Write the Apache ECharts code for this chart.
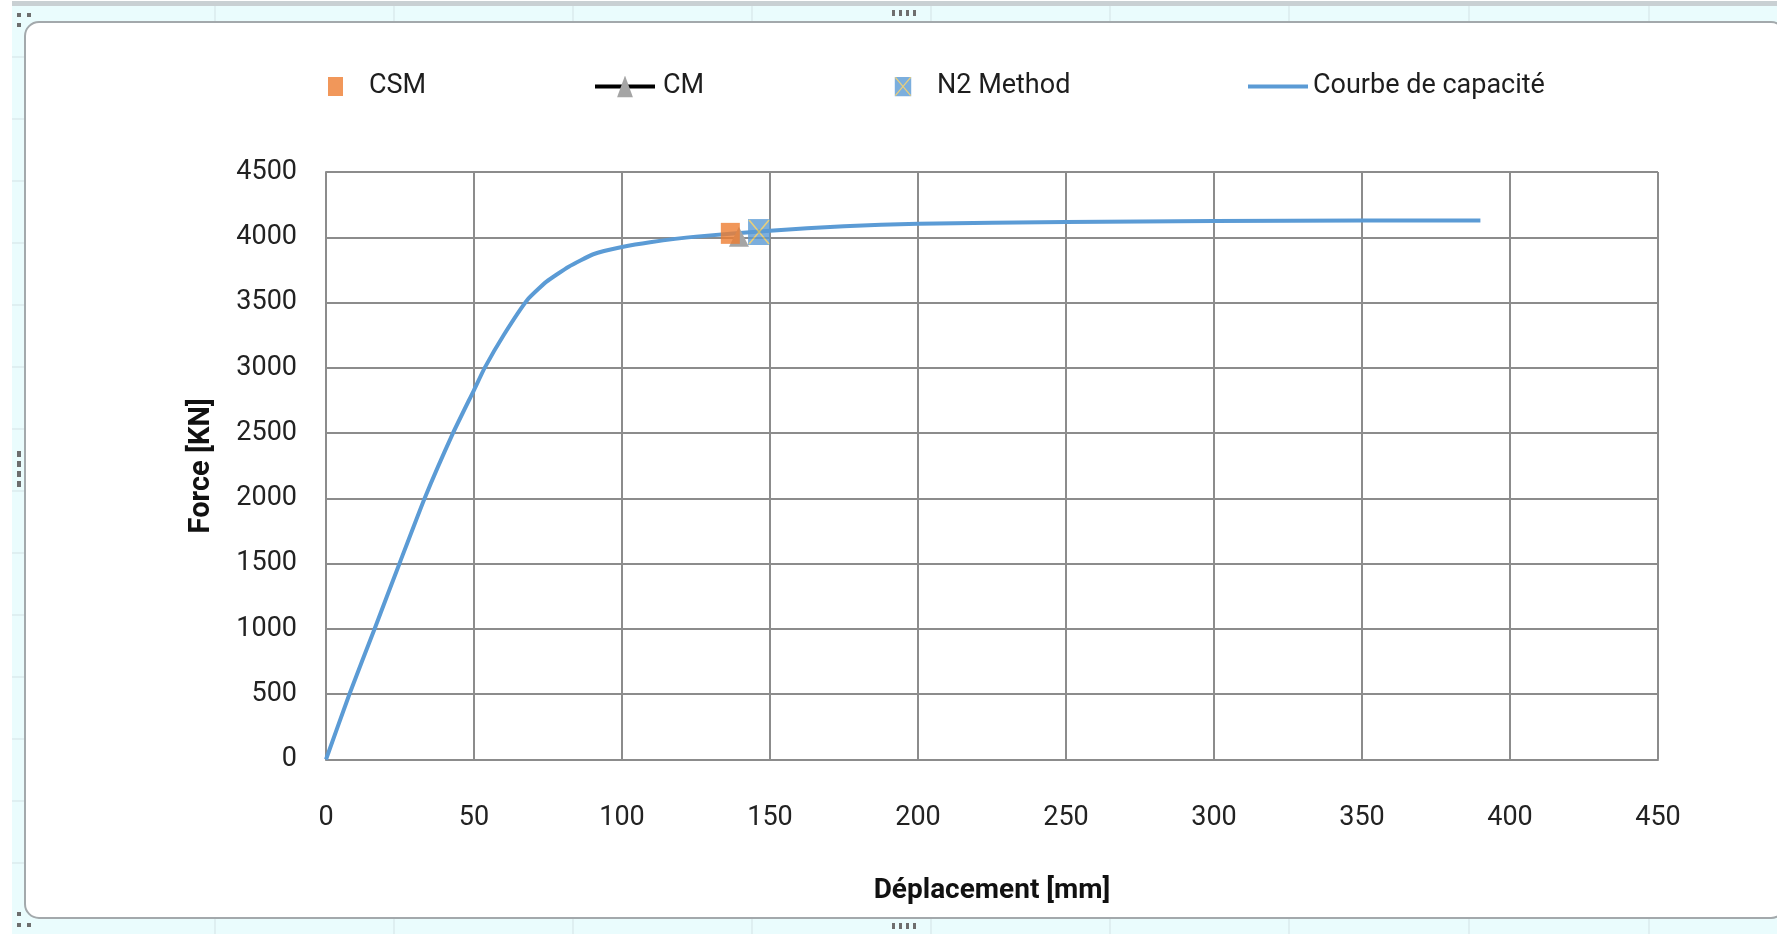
<!DOCTYPE html>
<html>
<head>
<meta charset="utf-8">
<script src="https://cdn.jsdelivr.net/npm/echarts@6/dist/echarts.min.js"></script>
<style>
html,body{margin:0;padding:0;background:#fff;}
#chart{width:1777px;height:934px;}
</style>
</head>
<body>
<div id="chart"></div>
<script>
// ---- data ----
const curveDisp  = [0, 7.9, 16.4, 24.8, 33.3, 42.9, 50, 53.6, 60, 68, 74.5, 82, 90.3, 100, 109.5, 125, 150, 175, 200, 250, 300, 350, 390];
const curveForce = [0, 500, 1000, 1500, 2000, 2500, 2830, 3000, 3250, 3520, 3660, 3775, 3870, 3925, 3962, 4005, 4050, 4085, 4104, 4117, 4124, 4129, 4129];
const csmPoint = [136.6, 4030];
const cmPoint  = [139.5, 4005];
const n2Point  = [146.3, 4040];
const seriesNames = ['CSM', 'CM', 'N2 Method', 'Courbe de capacité'];
const xTitle = 'Déplacement [mm]';
const yTitle = 'Force [KN]';

const FONT = 'Roboto, "Open Sans", sans-serif';
const BLUE = '#5b9bd5';

function svgIcon(svg) {
  return 'image://data:image/svg+xml;charset=utf-8,' + encodeURIComponent(svg);
}
const n2Icon = svgIcon('<svg xmlns="http://www.w3.org/2000/svg" width="22" height="26" viewBox="0 0 22 26">' +
  '<rect x="0" y="0" width="22" height="26" fill="#5b9bd5"/>' +
  '<path d="M1 1 L21 25 M21 1 L1 25" stroke="#e3c25a" stroke-width="1.6" fill="none"/></svg>');
const cmLegendIcon = svgIcon('<svg xmlns="http://www.w3.org/2000/svg" width="60" height="22" viewBox="0 0 60 22">' +
  '<rect x="0" y="9" width="60" height="4" fill="#000"/>' +
  '<path d="M30 0 L38 22 L22 22 Z" fill="#a5a5a5"/></svg>');
const curveLegendIcon = svgIcon('<svg xmlns="http://www.w3.org/2000/svg" width="60" height="22" viewBox="0 0 60 22">' +
  '<rect x="0" y="9" width="60" height="4" fill="#5b9bd5"/></svg>');

const curveData = curveDisp.map((d, i) => [d, curveForce[i]]);

// ---- decorative frame (Excel sheet around the chart) ----
const frame = [];
frame.push({type:'rect', z:-10, silent:true, shape:{x:12,y:6,width:1765,height:928}, style:{fill:'#eafcfd'}});
frame.push({type:'rect', z:-10, silent:true, shape:{x:12,y:1,width:1765,height:5}, style:{fill:'#c9d0d3'}});
[215, 394, 573, 752, 931, 1110, 1289, 1469, 1649].forEach(x => {
  frame.push({type:'line', z:-9, silent:true, shape:{x1:x,y1:6,x2:x,y2:22}, style:{stroke:'#d3e2e5', lineWidth:1}});
  frame.push({type:'line', z:-9, silent:true, shape:{x1:x,y1:918,x2:x,y2:934}, style:{stroke:'#d3e2e5', lineWidth:1}});
});
[57, 119, 181, 243, 305, 367, 429, 491, 553, 615, 677, 739, 801, 863].forEach(y => {
  frame.push({type:'line', z:-9, silent:true, shape:{x1:12,y1:y,x2:25,y2:y}, style:{stroke:'#d3e2e5', lineWidth:1}});
});
frame.push({type:'rect', z:-8, silent:true, shape:{x:25,y:22,width:1760,height:896,r:14},
  style:{fill:'#ffffff', stroke:'#a3a9ac', lineWidth:2}});
const handles = [[17,13],[27,13],[17,23],[17,912],[17,923],[27,923]];
handles.forEach(p => frame.push({type:'rect', z:-7, silent:true, shape:{x:p[0],y:p[1],width:4,height:4}, style:{fill:'#6e6e6e'}}));
[0,1,2,3].forEach(i => {
  frame.push({type:'rect', z:-7, silent:true, shape:{x:892+i*7,y:10,width:3,height:6}, style:{fill:'#6e6e6e'}});
  frame.push({type:'rect', z:-7, silent:true, shape:{x:892+i*7,y:923,width:3,height:6}, style:{fill:'#6e6e6e'}});
  frame.push({type:'rect', z:-7, silent:true, shape:{x:17,y:451+i*10,width:4,height:6}, style:{fill:'#6e6e6e'}});
});

const legendBase = {
  orient:'horizontal', top:68, itemGap:0,
  textStyle:{fontFamily:FONT, fontSize:27, color:'#1e1e1e'}
};
function lt(pad) { return Object.assign({}, legendBase.textStyle, {padding:[0,0,0,pad]}); }

const chart = echarts.init(document.getElementById('chart'), null, {renderer:'canvas'});
chart.setOption({
  backgroundColor:'#ffffff',
  animation:false,
  graphic: frame,
  legend: [
    Object.assign({}, legendBase, {left:323, itemWidth:15, itemHeight:19,
      data:[{name:seriesNames[0], icon:'rect'}], textStyle:lt(21)}),
    Object.assign({}, legendBase, {left:590, itemWidth:60, itemHeight:22,
      data:[{name:seriesNames[1], icon:cmLegendIcon}], textStyle:lt(3)}),
    Object.assign({}, legendBase, {left:889, itemWidth:18, itemHeight:20,
      data:[{name:seriesNames[2], icon:n2Icon}], textStyle:lt(20)}),
    Object.assign({}, legendBase, {left:1243, itemWidth:60, itemHeight:22,
      data:[{name:seriesNames[3], icon:curveLegendIcon}], textStyle:lt(0)})
  ],
  grid:{left:326, top:172, right:119, bottom:174.5, containLabel:false},
  xAxis:{
    type:'value', min:0, max:450, interval:50,
    name:xTitle, nameLocation:'middle', nameGap:117,
    nameTextStyle:{fontFamily:FONT, fontSize:28, fontWeight:'bold', color:'#111'},
    axisLine:{show:true, lineStyle:{color:'#8c8c8c', width:2}},
    axisTick:{show:false},
    axisLabel:{fontFamily:FONT, fontSize:27, color:'#222', margin:45, formatter: v => String(v)},
    splitLine:{show:true, lineStyle:{color:'#8c8c8c', width:2}}
  },
  yAxis:{
    type:'value', min:0, max:4500, interval:500,
    name:yTitle, nameLocation:'middle', nameGap:110, nameRotate:90,
    nameTextStyle:{fontFamily:FONT, fontSize:29, fontWeight:'bold', color:'#111'},
    axisLine:{show:true, lineStyle:{color:'#8c8c8c', width:2}},
    axisTick:{show:false},
    axisLabel:{fontFamily:FONT, fontSize:27, color:'#222', margin:29, formatter: v => String(v)},
    splitLine:{show:true, lineStyle:{color:'#8c8c8c', width:2}}
  },
  series:[
    {name:seriesNames[3], type:'line', z:2, data:curveData, showSymbol:false, symbol:'none',
      smooth:0.15, lineStyle:{color:BLUE, width:4}, itemStyle:{color:BLUE}},
    {name:seriesNames[1], type:'line', z:3, data:[cmPoint], symbol:'triangle', symbolSize:20,
      lineStyle:{color:'#000', width:4}, itemStyle:{color:'#a5a5a5'}},
    {name:seriesNames[0], type:'scatter', z:4, data:[csmPoint], symbol:'rect', symbolSize:[19,21],
      itemStyle:{color:'#ed7d31'}},
    {name:seriesNames[2], type:'scatter', z:5, data:[n2Point], symbol:n2Icon, symbolSize:[22,26]}
  ]
});
</script>
</body>
</html>
